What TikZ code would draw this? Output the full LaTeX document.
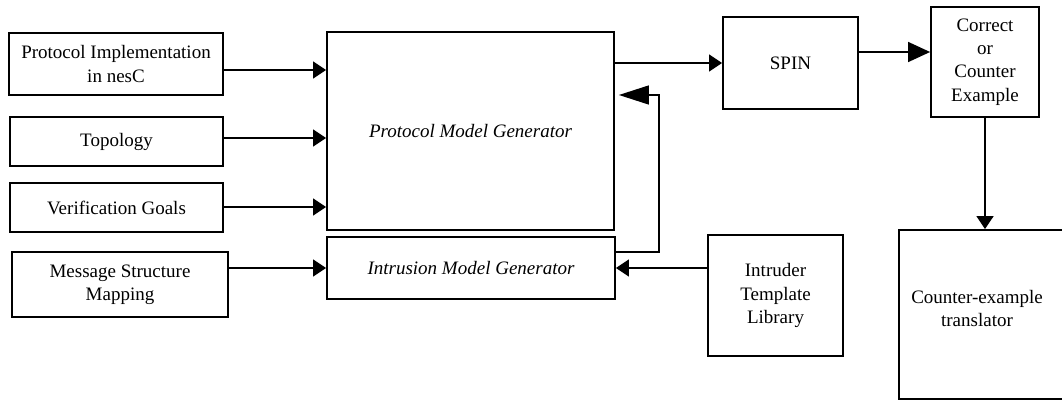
\documentclass[tikz,border=0pt]{standalone}
\usepackage{fontspec}
\setmainfont{Liberation Serif}
\usetikzlibrary{arrows.meta}

\begin{document}
\begin{tikzpicture}[x=1pt, y=-1pt, >={Triangle[length=13pt, width=17pt]},
	font=\fontsize{19}{23.3}\selectfont]
    \tikzstyle{block} = [draw, line width=1.8pt, align=center,
	inner sep=0pt]
    \tikzstyle{flow} = [->, line width=1.4pt]

	\clip (0,0) rectangle (1062,401);

	\begin{scope}
		% inputs on the left
		\node[block, minimum width=214pt, minimum height=62pt] (impl) at (116,64) {Protocol Implementation\\in nesC};
		\node[block, minimum width=213pt, minimum height=49pt] (topo) at (116.5,141.5) {Topology};
		\node[block, minimum width=213pt, minimum height=49pt] (goals) at (116.5,207.5) {Verification Goals};
		\node[block, minimum width=216pt, minimum height=65pt] (msg) at (120,284.5) {Message Structure\\Mapping};

		% generators
		\node[block, minimum width=287pt, minimum height=198pt] (pmg) at (470.5,131) {\itshape Protocol Model Generator};
		\node[block, minimum width=288pt, minimum height=62pt] (img) at (471,268) {\itshape Intrusion Model Generator};

		% checker and outputs
		\node[block, minimum width=135pt, minimum height=92pt] (spin) at (790.5,63) {SPIN};
		\node[block, minimum width=108pt, minimum height=110pt] (result) at (985,62) {Correct\\or\\Counter\\Example};
		\node[block, minimum width=135pt, minimum height=121pt] (intruder) at (775.5,295.5) {Intruder\\Template\\Library};
		\node[block, minimum width=176pt, minimum height=169pt,
			label={[xshift=-10pt, yshift=6pt, align=center]center:Counter-example\\translator}] (trans) at (987,314.5) {};

		\coordinate (implout) at ([yshift=-6pt]impl.east);
		\coordinate (topoout) at ([yshift=3.5pt]topo.east);
		\coordinate (goalsout) at ([yshift=0.5pt]goals.east);
		\coordinate (spinout) at ([yshift=11pt]spin.east);
		\coordinate (imgout) at ([yshift=16pt]img.east);
		\coordinate (fb) at (659,95);

		\path[flow]
			(implout) edge (implout -| pmg.west)
			(topoout) edge (topoout -| pmg.west)
			(goalsout) edge (goalsout -| pmg.west)
			(msg.east |- img.west) edge (img.west)

			(pmg.east |- spin.west) edge (spin.west)
			(spinout) edge[>={Triangle[length=22pt, width=20pt]}] (spinout -| result.west)
			(result.south) edge (result.south |- trans.north)

			(intruder.west |- img.east) edge (img.east)
		;

		% intrusion model fed back into the protocol model
		\draw[flow, >={Triangle[length=30pt, width=19pt]}]
			(imgout) -| (fb) -- ([xshift=4pt]fb -| pmg.east);
	\end{scope}
\end{tikzpicture}
\end{document}
